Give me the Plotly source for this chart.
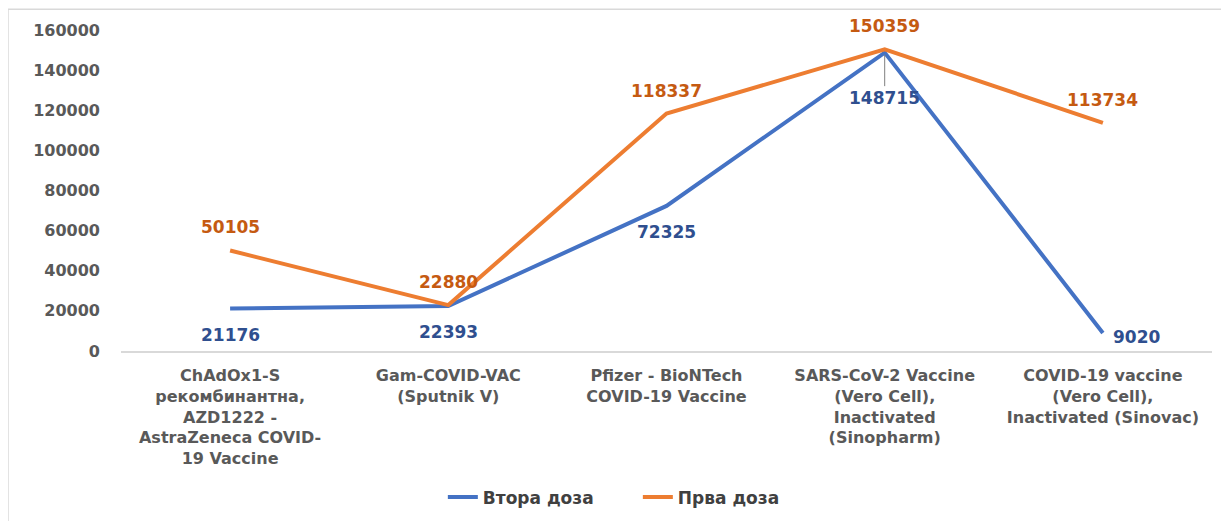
import plotly.graph_objects as go

categories = [
    "ChAdOx1-S<br>рекомбинантна,<br>AZD1222 -<br>AstraZeneca COVID-<br>19 Vaccine",
    "Gam-COVID-VAC<br>(Sputnik V)",
    "Pfizer - BioNTech<br>COVID-19 Vaccine",
    "SARS-CoV-2 Vaccine<br>(Vero Cell),<br>Inactivated<br>(Sinopharm)",
    "COVID-19 vaccine<br>(Vero Cell),<br>Inactivated (Sinovac)",
]
second_dose = [21176, 22393, 72325, 148715, 9020]
first_dose = [50105, 22880, 118337, 150359, 113734]
y_ticks = [0, 20000, 40000, 60000, 80000, 100000, 120000, 140000, 160000]
y_tick_text = [str(v) for v in y_ticks]

BLUE = "#4472C4"
ORANGE = "#ED7D31"
BLUE_TXT = "#2F4F8F"
ORANGE_TXT = "#C55A11"
FONT = "DejaVu Sans"

fig = go.Figure()
fig.add_trace(go.Scatter(x=categories, y=second_dose, mode="lines", name="Втора доза",
                         line=dict(color=BLUE, width=4)))
fig.add_trace(go.Scatter(x=categories, y=first_dose, mode="lines", name="Прва доза",
                         line=dict(color=ORANGE, width=4)))

ann = []
for c, v in zip(categories, first_dose):
    ann.append(dict(x=c, y=v, text=f"<b>{v}</b>", showarrow=False, yshift=23,
                    font=dict(family=FONT, size=17, color=ORANGE_TXT)))
b_offsets = [(0, 26), (0, 26), (0, 26), None, (34, 4)]
for c, v, off in zip(categories, second_dose, b_offsets):
    if off is None:
        ann.append(dict(x=c, y=v, ax=0, ay=45, text=f"<b>{v}</b>", showarrow=True,
                        arrowhead=0, arrowwidth=1, arrowcolor="#7f7f7f", standoff=2,
                        font=dict(family=FONT, size=17, color=BLUE_TXT)))
    else:
        ann.append(dict(x=c, y=v, text=f"<b>{v}</b>", showarrow=False, xshift=off[0], yshift=-off[1],
                        font=dict(family=FONT, size=17, color=BLUE_TXT)))

fig.update_layout(
    width=1229, height=521,
    margin=dict(l=113, r=25, t=22, b=178, autoexpand=False),
    paper_bgcolor="white", plot_bgcolor="white",
    font=dict(family=FONT, color="#595959", size=14),
    showlegend=True,
    legend=dict(orientation="h", x=0.295, xanchor="left", y=-0.40, yanchor="top",
                font=dict(family=FONT, size=17, color="#404040", weight="bold"),
                itemwidth=30, entrywidth=150, entrywidthmode="pixels"),
    annotations=ann,
    shapes=[dict(type="rect", xref="paper", yref="paper", x0=-0.1036, x1=1.009, y0=-0.56, y1=1.065,
                 line=dict(color="#d9d9d9", width=1.5))],
)
fig.update_xaxes(range=[-0.5, 4.5], automargin=False, showgrid=False, showline=True,
                 linecolor="#d9d9d9", linewidth=1.5,
                 tickfont=dict(family=FONT, size=16, color="#595959", weight="bold"),
                 ticks="", tickangle=0, ticklabelstandoff=9)
fig.update_yaxes(range=[0, 160000], tickvals=y_ticks, ticktext=y_tick_text, automargin=False,
                 showgrid=False, zeroline=False, showline=False,
                 tickfont=dict(family=FONT, size=16, color="#595959", weight="bold"),
                 ticklabelstandoff=20)

fig.write_html("out.html")
